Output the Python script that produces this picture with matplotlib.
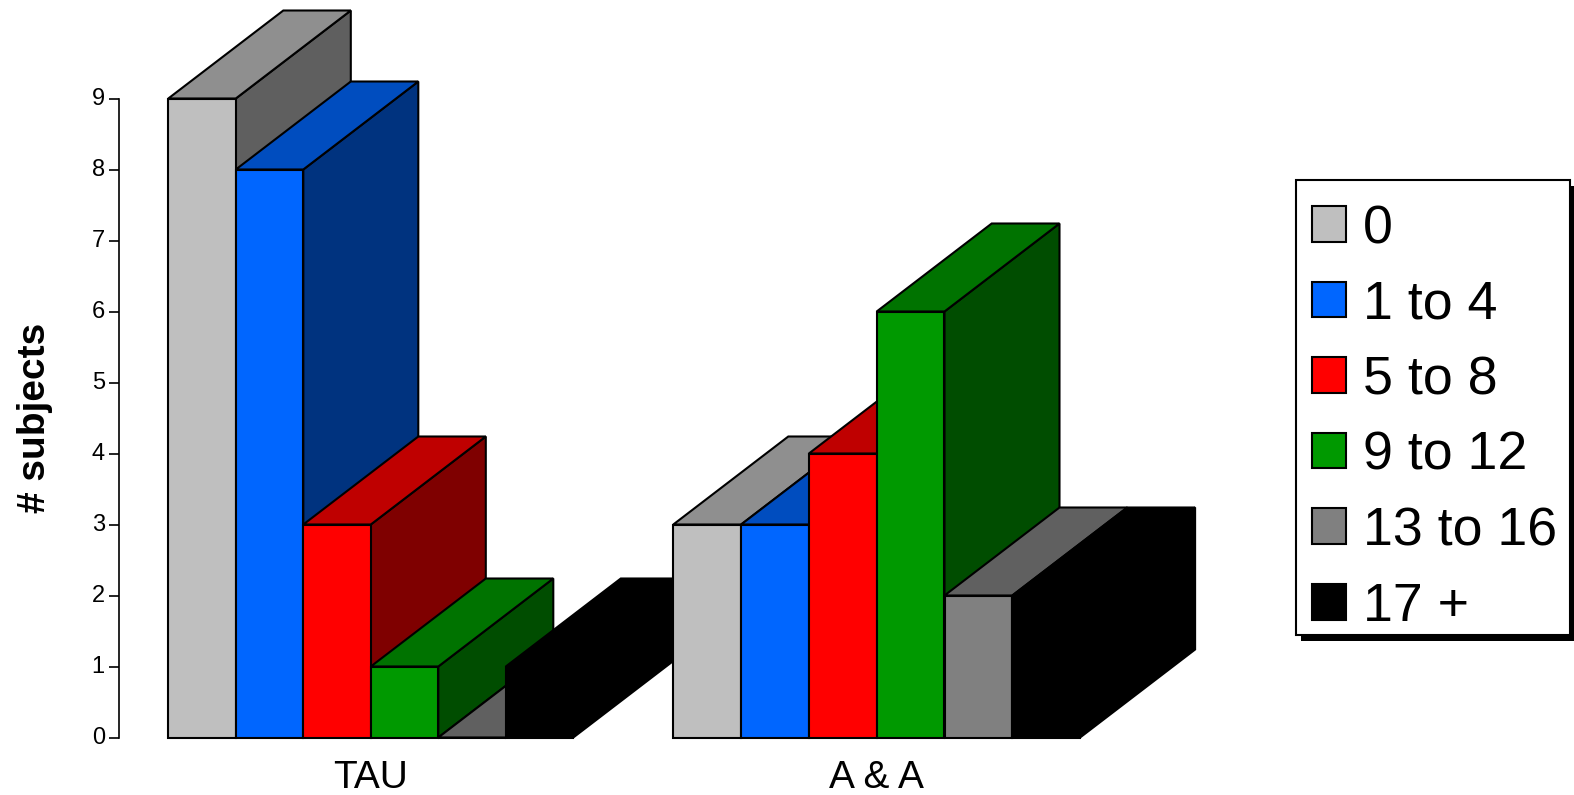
import matplotlib
matplotlib.use("Agg")
import matplotlib.pyplot as plt
from matplotlib.patches import Polygon, Patch, Rectangle
from matplotlib.transforms import ScaledTranslation

plt.rcParams['font.family'] = ['Liberation Sans', 'DejaVu Sans']

groups = ["TAU", "A & A"]
bins = ["0", "1 to 4", "5 to 8", "9 to 12", "13 to 16", "17 +"]
tau_counts = [9, 8, 3, 1, 0, 1]
aa_counts = [3, 3, 4, 6, 2, 2]
y_ticks = [0, 1, 2, 3, 4, 5, 6, 7, 8, 9]

front_colors = ["#BFBFBF", "#0066FF", "#FF0000", "#009900", "#808080", "#000000"]
top_colors = ["#8F8F8F", "#004DBF", "#BF0000", "#007300", "#606060", "#000000"]
side_colors = ["#5F5F5F", "#00337F", "#7F0000", "#004D00", "#404040", "#000000"]

W, H = 1574, 795
LEFT, RIGHT, BOTTOM, TOP = 118.7, 1080.5, 737.5, 98.5
UNIT_H = (BOTTOM - TOP) / 9
DEPTH_X = 115.0     # pixels, x data is in pixels from the left edge of the axes
DEPTH_Y = 88 / UNIT_H
LW = 1.5

group_starts = [168.3 - LEFT, 673.3 - LEFT]
group_widths = [67.5, 67.8]


def draw_bar(ax, x, w, v, i):
    # painter's order: side and top first, then the front face
    x2 = x + w
    side = [(x2, 0), (x2 + DEPTH_X, DEPTH_Y), (x2 + DEPTH_X, v + DEPTH_Y), (x2, v)]
    top = [(x, v), (x + DEPTH_X, v + DEPTH_Y), (x2 + DEPTH_X, v + DEPTH_Y), (x2, v)]
    front = [(x, 0), (x, v), (x2, v), (x2, 0)]
    for pts, col in [(side, side_colors[i]), (top, top_colors[i]), (front, front_colors[i])]:
        ax.add_patch(Polygon(pts, closed=True, facecolor=col, edgecolor="black",
                             linewidth=LW, joinstyle="miter", clip_on=False))


fig = plt.figure(figsize=(W / 100, H / 100), dpi=100)
ax = fig.add_axes([LEFT / W, 1 - BOTTOM / H, (RIGHT - LEFT) / W, (BOTTOM - TOP) / H])
ax.set_xlim(0, RIGHT - LEFT)
ax.set_ylim(0, 9)

for start, w, counts in zip(group_starts, group_widths, [tau_counts, aa_counts]):
    for i, v in enumerate(counts):
        draw_bar(ax, start + i * w, w, v, i)

for s in ["top", "right", "bottom"]:
    ax.spines[s].set_visible(False)
ax.spines["left"].set_linewidth(1.2)
ax.set_yticks(y_ticks)
ax.tick_params(axis="y", length=7.5, width=1.2, pad=2.5, labelsize=17)
nudge = ScaledTranslation(0, 2.0 / 100, fig.dpi_scale_trans)
for lab in ax.get_yticklabels():
    lab.set_transform(lab.get_transform() + nudge)
ax.set_xticks([s + 3 * w for s, w in zip(group_starts, group_widths)])
ax.set_xticklabels(groups)
ax.tick_params(axis="x", length=0, pad=16, labelsize=28)
ax.set_ylabel("# subjects", fontsize=28, fontweight="bold", labelpad=28)

# legend box and its drop shadow sit behind the legend entries
box = (1296, 180, 274, 455)
fig.add_artist(Rectangle(((box[0] + 5) / W, 1 - (box[1] + box[3] + 6) / H), box[2] / W, box[3] / H,
                         transform=fig.transFigure, facecolor="black", edgecolor="black",
                         linewidth=0, zorder=-2))
fig.add_artist(Rectangle((box[0] / W, 1 - (box[1] + box[3]) / H), box[2] / W, box[3] / H,
                         transform=fig.transFigure, facecolor="white", edgecolor="black",
                         linewidth=LW, zorder=-1))

handles = [Patch(facecolor=c, edgecolor="black", linewidth=LW) for c in front_colors]
ax.legend(handles, bins, loc="upper left", bbox_to_anchor=(1312 / W, 1 - 204 / H),
          bbox_transform=fig.transFigure, fontsize=38.7, frameon=False,
          handlelength=0.64, handleheight=0.64, handletextpad=0.31,
          labelspacing=0.475, borderpad=0, borderaxespad=0)

fig.savefig("out.png", dpi=100)
